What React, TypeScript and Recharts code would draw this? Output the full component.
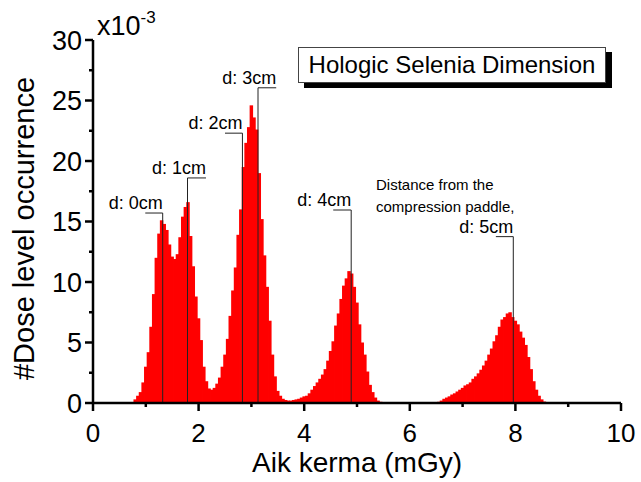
import React from 'react';
import { ComposedChart, Bar, XAxis, YAxis, ReferenceLine, ReferenceDot } from 'recharts';

const FONT = '"Liberation Sans", Arial, Helvetica, sans-serif';

// Histogram bins (air kerma, mGy): first bin centre and bin width
const BIN_START = 0.8;
const BIN_WIDTH = 0.05;

// Dose level occurrence (x10^-3), one value per bin
const occurrenceA = [
  0.3, 0.6, 0.9, 1.7, 3.0, 4.2, 6.3, 9.0, 12.0, 14.0,
  15.1, 14.8, 14.3, 13.1, 12.1, 11.9, 12.3, 13.7, 15.4, 16.2,
  16.6, 13.8, 11.3, 8.8, 7.0, 5.2, 3.0, 1.8, 1.2, 1.1,
  1.25, 1.6, 2.1, 3.0, 4.0, 5.3, 7.2, 9.3, 11.2, 13.9,
  16.0, 19.5, 21.5, 22.8, 24.6, 23.6, 22.6, 19.0, 15.2, 12.2,
  9.6, 6.8, 4.0, 2.2, 1.0, 0.6, 0.35, 0.25, 0.2, 0.2,
  0.25, 0.3, 0.35, 0.45, 0.55, 0.6, 0.8, 1.1, 1.4, 1.7,
  2.0, 2.35, 2.8, 3.5, 4.3, 5.1, 6.4, 7.4, 8.6, 9.7,
  10.3, 10.9, 10.7, 9.6, 8.3, 6.5, 5.0, 4.0, 2.6, 1.5,
  0.9, 0.45, 0.2, 0.1, 0.05,
];
const occurrenceGap = [
  0, 0, 0, 0, 0, 0, 0, 0, 0, 0,
  0, 0, 0, 0, 0, 0, 0, 0, 0, 0,
];
const occurrenceC = [
  0.1, 0.2, 0.35, 0.45, 0.55, 0.7, 0.8, 0.95, 1.1, 1.25,
  1.45, 1.55, 1.7, 2.0, 2.2, 2.45, 2.75, 3.1, 3.5, 4.0,
  4.5, 5.1, 5.6, 6.3, 6.9, 7.1, 7.4, 7.5, 7.1, 6.8,
  6.5, 5.9, 5.4, 4.8, 3.8, 2.8, 1.8, 1.1, 0.6, 0.3,
  0.12, 0.05,
];
const occurrence = [...occurrenceA, ...occurrenceGap, ...occurrenceC];
const doseBins = occurrence.map((_, i) => +(BIN_START + i * BIN_WIDTH).toFixed(2));

const xTicks = [0, 1, 2, 3, 4, 5, 6, 7, 8, 9, 10];
const yTicks = [0, 2.5, 5, 7.5, 10, 12.5, 15, 17.5, 20, 22.5, 25, 27.5, 30];

// Annotations: label, vertical line position, top of the line, horizontal leader extent
const annotations = [
  { label: 'd: 0cm', vx: 1.32, top: 15.7, from: 0.99, to: 1.32 },
  { label: 'd: 1cm', vx: 1.79, top: 18.6, from: 1.79, to: 2.14 },
  { label: 'd: 2cm', vx: 2.83, top: 22.3, from: 2.5, to: 2.83 },
  { label: 'd: 3cm', vx: 3.125, top: 26.05, from: 3.125, to: 3.47 },
  { label: 'd: 4cm', vx: 4.89, top: 15.95, from: 4.55, to: 4.89 },
  { label: 'd: 5cm', vx: 7.96, top: 13.75, from: 7.63, to: 7.96 },
];
const noteLines = ['Distance from the', 'compression paddle,'];
const notePos = { x: 5.36, y: 17.64 };

const data = doseBins.map((d, i) => ({ dose: d, occ: occurrence[i] }));

const W = 641;
const H = 482;
const M = { top: 40, right: 20, bottom: 0, left: 0 };
const LEFT_W = 93;
const BOTTOM_H = 79;
const plotW = W - M.left - M.right - LEFT_W;
const barPx = (plotW / 10) * BIN_WIDTH * 0.97;

const TICK_FONT = 26;

// Histogram bar: widened a little so neighbouring bins touch without hairline gaps
const HistBar = (p: any) => {
  const { x, y, width, height } = p;
  if (!height || height <= 0) return null;
  return <rect x={x - 0.45} y={y} width={width + 0.9} height={height} fill="#ff0000" />;
};

const BottomTick = (p: any) => {
  const { x, y, payload } = p;
  const major = payload.value % 2 === 0;
  return (
    <g>
      <line x1={x} x2={x} y1={y} y2={y + (major ? 8 : 4)} stroke="#000" strokeWidth={2.5} />
      {major && (
        <text x={x} y={y + 39} textAnchor="middle" fontSize={TICK_FONT} fontFamily={FONT} fill="#000">
          {payload.value}
        </text>
      )}
    </g>
  );
};
const TopTick = (p: any) => {
  const { x, y, payload } = p;
  const major = payload.value % 2 === 0;
  return <line x1={x} x2={x} y1={y} y2={y - (major ? 8 : 4)} stroke="#000" strokeWidth={2.5} />;
};
const LeftTick = (p: any) => {
  const { x, y, payload } = p;
  const major = payload.value % 5 === 0;
  return (
    <g>
      <line x1={x} x2={x - (major ? 8 : 4)} y1={y} y2={y} stroke="#000" strokeWidth={2.5} />
      {major && (
        <text x={x - 11} y={y + 9.5} textAnchor="end" fontSize={TICK_FONT + 1} fontFamily={FONT} fill="#000">
          {payload.value}
        </text>
      )}
    </g>
  );
};
const RightTick = (p: any) => {
  const { x, y, payload } = p;
  const major = payload.value % 5 === 0;
  return <line x1={x} x2={x + (major ? 8 : 4)} y1={y} y2={y} stroke="#000" strokeWidth={2.5} />;
};

const axisLine = { stroke: '#000', strokeWidth: 2.5 };

export default function App() {
  return (
    <div style={{ position: 'absolute', left: 0, top: 0, width: W, height: H, background: '#fff', fontFamily: FONT }}>
      <ComposedChart width={W} height={H} data={data} margin={M} barGap={0} barCategoryGap={0}>
        <Bar dataKey="occ" fill="#ff0000" barSize={barPx} shape={HistBar} isAnimationActive={false} />
        {annotations.map((a) => (
          <ReferenceLine
            key={a.label + 'v'}
            segment={[{ x: a.vx, y: 0 }, { x: a.vx, y: a.top }]}
            stroke="#222"
            strokeWidth={1}
          />
        ))}
        {annotations.map((a) => (
          <ReferenceLine
            key={a.label + 'h'}
            segment={[{ x: a.from, y: a.top }, { x: a.to, y: a.top }]}
            stroke="#222"
            strokeWidth={1}
          />
        ))}
        {annotations.map((a) => (
          <ReferenceDot
            key={a.label + 't'}
            x={a.to}
            y={a.top}
            r={0}
            fill="none"
            stroke="none"
            label={(p: any) => (
              <text x={p.viewBox.x} y={p.viewBox.y - 4} textAnchor="end" fontSize={18} fontFamily={FONT} fill="#000">
                {a.label}
              </text>
            )}
          />
        ))}
        <ReferenceDot
          x={notePos.x}
          y={notePos.y}
          r={0}
          fill="none"
          stroke="none"
          label={(p: any) => (
            <text x={p.viewBox.x} y={p.viewBox.y} textAnchor="start" fontSize={15} fontFamily={FONT} fill="#000">
              {noteLines.map((t, i) => (
                <tspan key={t} x={p.viewBox.x} dy={i === 0 ? 0 : 22.5}>
                  {t}
                </tspan>
              ))}
            </text>
          )}
        />
        <XAxis
          dataKey="dose"
          type="number"
          domain={[0, 10]}
          ticks={xTicks}
          allowDataOverflow
          height={BOTTOM_H}
          axisLine={axisLine}
          tickLine={false}
          tickSize={0}
          tickMargin={0}
          tick={<BottomTick />}
          interval={0}
          label={{
            content: (p: any) => (
              <text
                x={p.viewBox.x + p.viewBox.width / 2}
                y={p.viewBox.y + 69}
                textAnchor="middle"
                fontSize={28}
                fontFamily={FONT}
                fill="#000"
              >
                Aik kerma (mGy)
              </text>
            ),
          }}
        />
        <XAxis
          xAxisId="top"
          orientation="top"
          dataKey="dose"
          type="number"
          domain={[0, 10]}
          ticks={xTicks}
          height={0}
          axisLine={axisLine}
          tickLine={false}
          tickSize={0}
          tickMargin={0}
          tick={<TopTick />}
          interval={0}
        />
        <YAxis
          type="number"
          domain={[0, 30]}
          ticks={yTicks}
          width={LEFT_W}
          axisLine={axisLine}
          tickLine={false}
          tickSize={0}
          tickMargin={0}
          tick={<LeftTick />}
          interval={0}
          label={{
            content: (p: any) => {
              const cx = 34;
              const cy = p.viewBox.y + p.viewBox.height / 2 + 7;
              return (
                <text
                  x={cx}
                  y={cy}
                  transform={`rotate(-90 ${cx} ${cy})`}
                  textAnchor="middle"
                  fontSize={29}
                  fontFamily={FONT}
                  fill="#000"
                >
                  #Dose level occurrence
                </text>
              );
            },
          }}
        />
        <YAxis
          yAxisId="right"
          orientation="right"
          type="number"
          domain={[0, 30]}
          ticks={yTicks}
          width={0}
          axisLine={axisLine}
          tickLine={false}
          tickSize={0}
          tickMargin={0}
          tick={<RightTick />}
          interval={0}
        />
      </ComposedChart>
      <div
        style={{
          position: 'absolute',
          left: 97,
          top: 11,
          fontSize: 27,
          lineHeight: '30px',
          color: '#000',
          fontFamily: FONT,
          whiteSpace: 'nowrap',
        }}
      >
        x10<span style={{ fontSize: 17, position: 'relative', top: -12 }}>-3</span>
      </div>
      <div
        style={{
          position: 'absolute',
          left: 298,
          top: 47,
          width: 306,
          height: 34,
          border: '1px solid #444',
          background: '#fff',
          boxShadow: '6px 5px 0 #000',
          fontSize: 24,
          lineHeight: '34px',
          textAlign: 'center',
          color: '#000',
          fontFamily: FONT,
          whiteSpace: 'nowrap',
        }}
      >
        Hologic Selenia Dimension
      </div>
    </div>
  );
}
